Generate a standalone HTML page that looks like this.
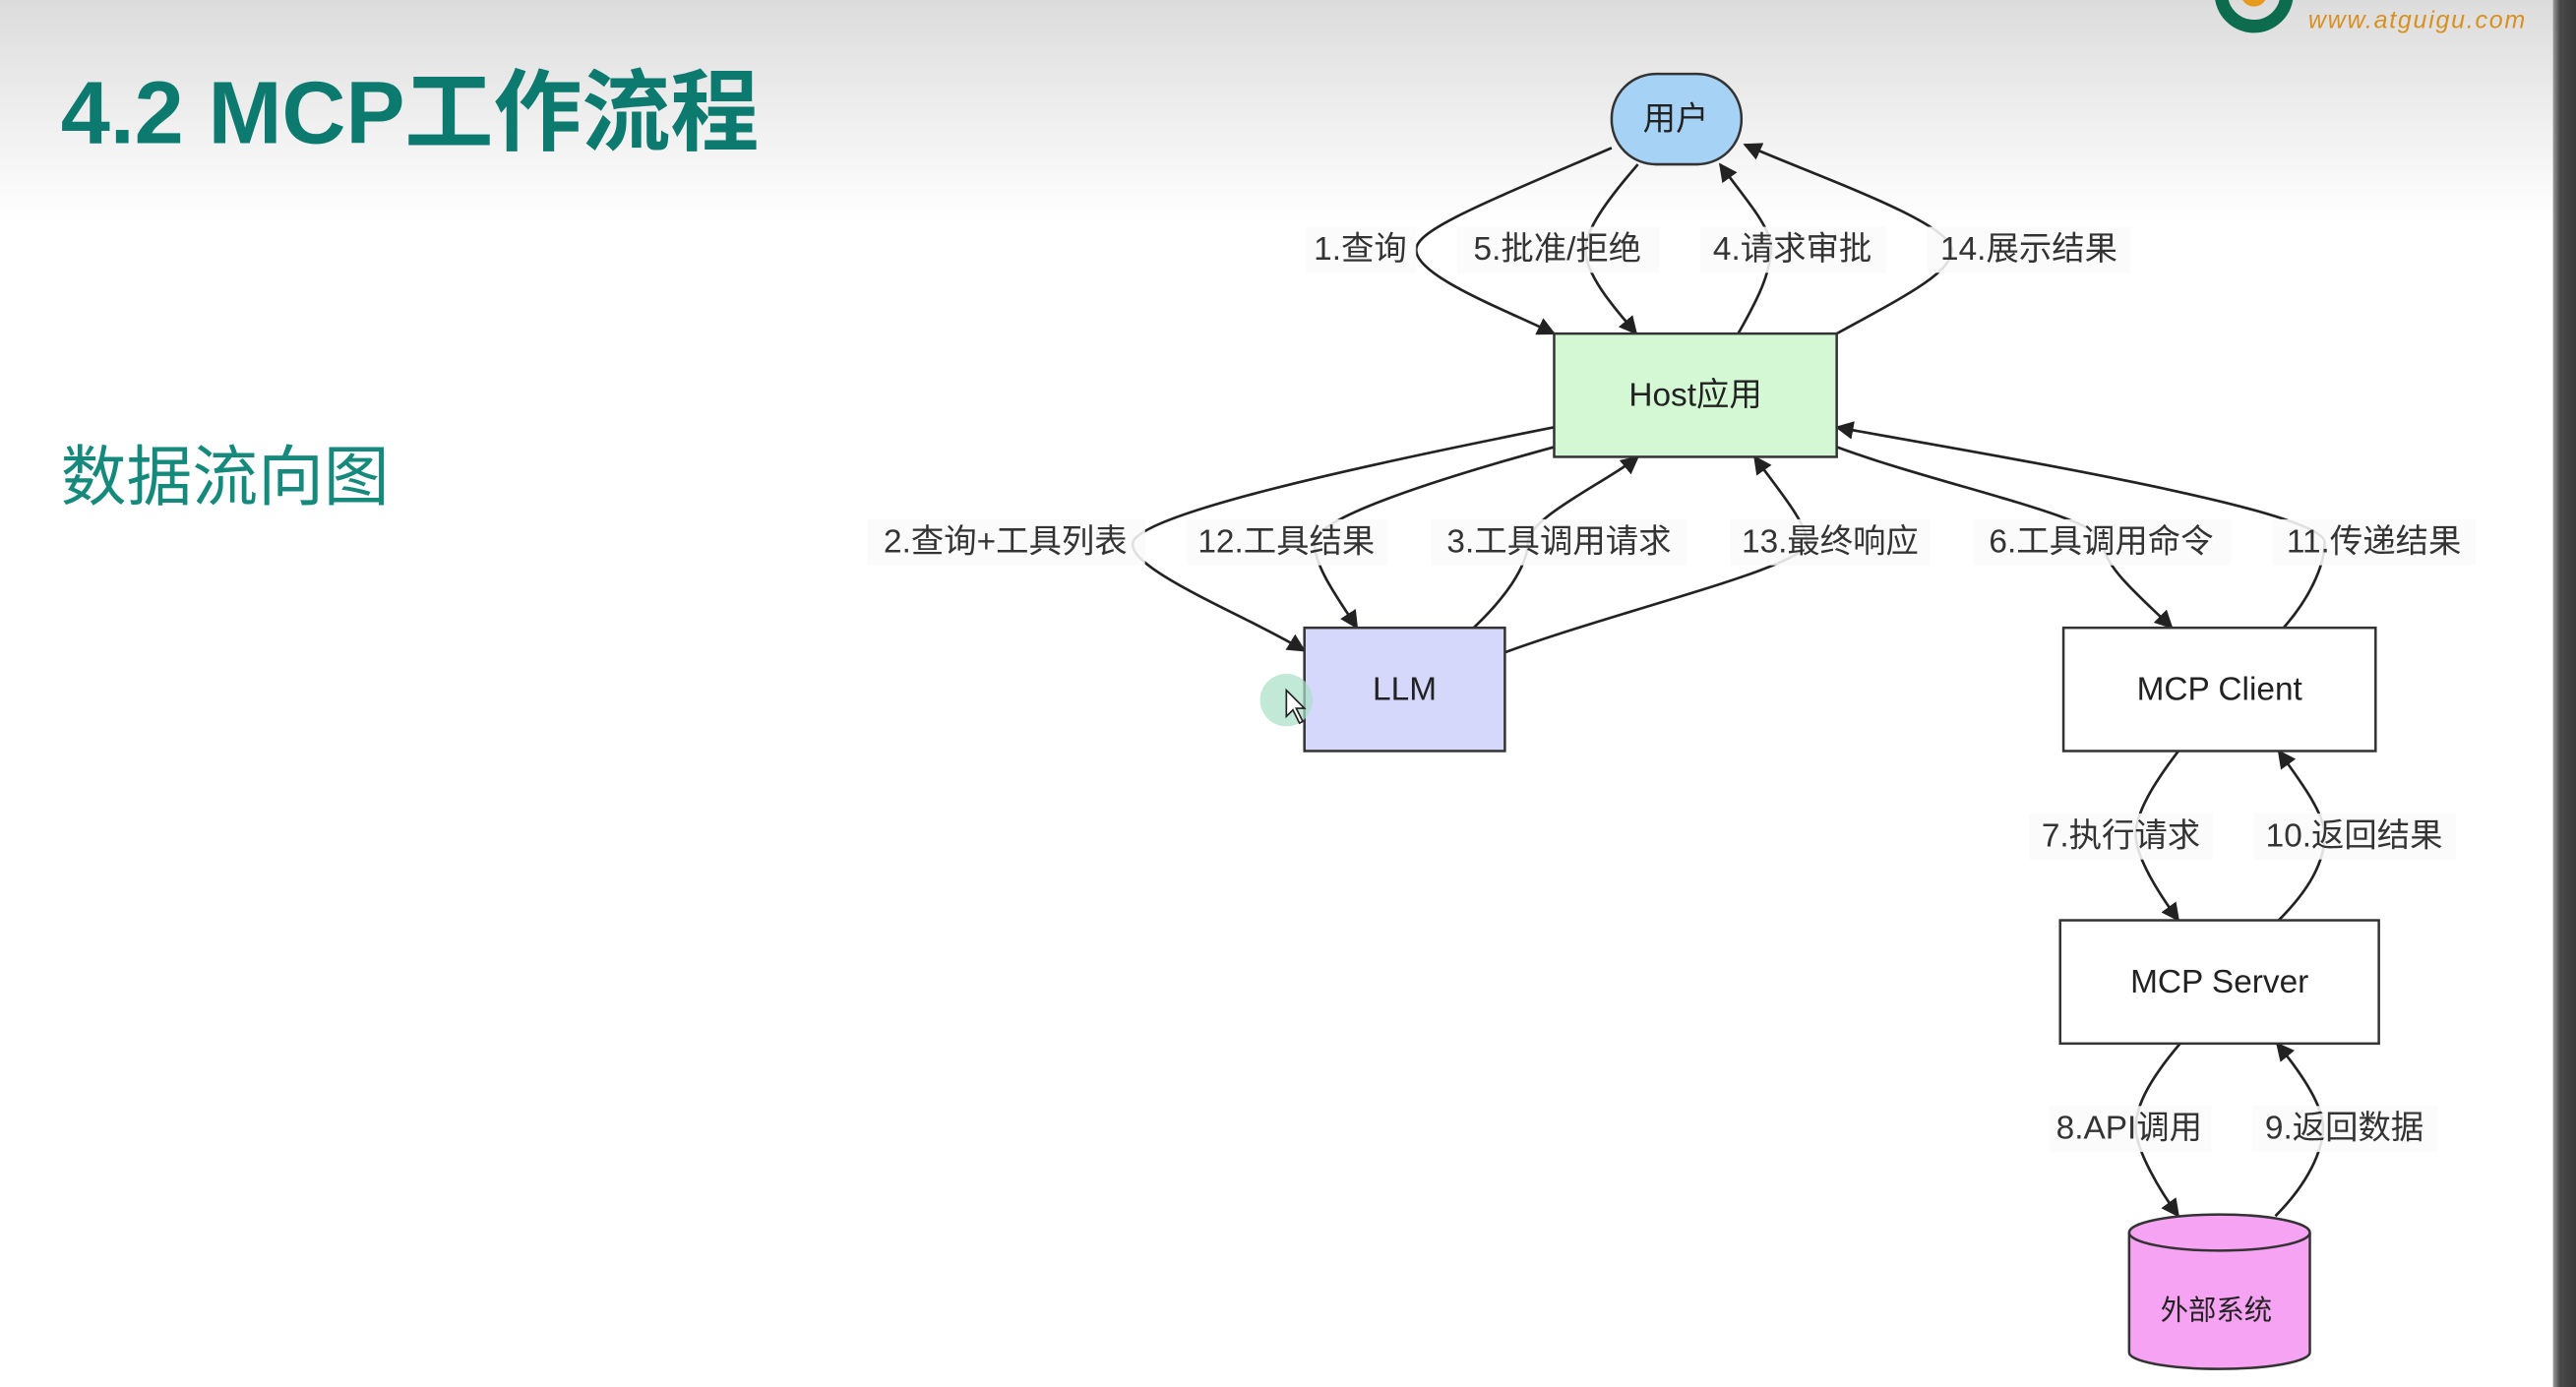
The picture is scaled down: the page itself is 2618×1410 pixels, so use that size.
<!DOCTYPE html>
<html><head><meta charset="utf-8"><style>
html,body{margin:0;padding:0;width:2618px;height:1410px;overflow:hidden;background:#fff}
svg{display:block}
text{font-family:"Liberation Sans","Noto Sans CJK SC",sans-serif}
</style></head><body>
<svg width="2618" height="1410" viewBox="0 0 1568 844" preserveAspectRatio="none" xmlns="http://www.w3.org/2000/svg">
<defs>
<linearGradient id="bg" x1="0" y1="0" x2="0" y2="1">
<stop offset="0" stop-color="#dcdcdc"/><stop offset="1" stop-color="#ffffff"/>
</linearGradient>
<linearGradient id="bar" x1="0" y1="0" x2="1" y2="0">
<stop offset="0" stop-color="#9a9a9a"/><stop offset="0.3" stop-color="#4a4a4a"/><stop offset="1" stop-color="#3a3a3a"/>
</linearGradient>
<marker id="a" viewBox="0 0 10 10" refX="9" refY="5" markerWidth="7" markerHeight="7" orient="auto">
<path d="M0,0 L10,5 L0,10 z" fill="#222"/></marker>
</defs>
<rect x="0" y="0" width="1568" height="844" fill="#fff"/>
<rect x="0" y="0" width="1568" height="135" fill="url(#bg)"/>
<rect x="1554" y="0" width="14" height="844" fill="url(#bar)"/>
<!-- logo -->
<circle cx="1372" cy="-4" r="20" fill="none" stroke="#0d6b4e" stroke-width="8"/>
<circle cx="1372" cy="-4" r="8" fill="#e89a1c"/>
<text x="1405" y="17" font-size="15" fill="#d89020" font-style="italic" textLength="132">www.atguigu.com</text>
<!-- titles -->
<text x="37" y="87" font-size="54" font-weight="bold" fill="#0d7a70" textLength="425">4.2 MCP工作流程</text>
<text x="37" y="304" font-size="40" fill="#14897c">数据流向图</text>
<!-- edges -->
<g fill="none" stroke="#222" stroke-width="1.6">
<path d="M981,90 C900,125 862,140 862,152 C862,168 915,188 946,203" marker-end="url(#a)"/>
<path d="M997,100 C978,122 965,140 965,152 C965,168 985,190 996,203" marker-end="url(#a)"/>
<path d="M1058,203 C1070,182 1078,166 1078,150 C1078,138 1060,118 1047,100" marker-end="url(#a)"/>
<path d="M1118,203 C1160,180 1188,166 1188,152 C1188,135 1100,105 1062,88" marker-end="url(#a)"/>
<path d="M946,260 C820,285 700,312 690,329 C682,345 760,375 794,396" marker-end="url(#a)"/>
<path d="M946,272 C880,290 800,315 800,330 C800,345 815,365 826,382" marker-end="url(#a)"/>
<path d="M897,382 C915,365 930,345 930,330 C930,315 980,292 997,278" marker-end="url(#a)"/>
<path d="M916,397 C990,370 1100,345 1100,330 C1100,318 1080,295 1068,278" marker-end="url(#a)"/>
<path d="M1118,272 C1180,295 1280,315 1280,330 C1280,345 1305,365 1322,382" marker-end="url(#a)"/>
<path d="M1390,382 C1405,365 1415,345 1415,330 C1415,310 1200,275 1118,260" marker-end="url(#a)"/>
<path d="M1326,457 C1310,478 1300,495 1300,508 C1300,522 1315,545 1326,560" marker-end="url(#a)"/>
<path d="M1387,560 C1405,542 1415,525 1415,508 C1415,495 1400,475 1387,457" marker-end="url(#a)"/>
<path d="M1327,635 C1310,655 1300,672 1300,686 C1300,700 1315,725 1326,740" marker-end="url(#a)"/>
<path d="M1385,740 C1405,720 1414,700 1414,686 C1414,672 1400,652 1386,635" marker-end="url(#a)"/>
</g>
<!-- label backgrounds + text -->
<g fill="#fbfbfb" opacity="0.88">
<rect x="795" y="138" width="67" height="28"/><rect x="887" y="138" width="123" height="28"/>
<rect x="1035" y="138" width="113" height="28"/><rect x="1173" y="138" width="124" height="28"/>
<rect x="528" y="316" width="169" height="28"/><rect x="722" y="316" width="123" height="28"/>
<rect x="871" y="316" width="156" height="28"/><rect x="1053" y="316" width="122" height="28"/>
<rect x="1201" y="316" width="157" height="28"/><rect x="1383" y="316" width="124" height="28"/>
<rect x="1235" y="495" width="112" height="28"/><rect x="1372" y="495" width="123" height="28"/>
<rect x="1247" y="673" width="99" height="28"/><rect x="1371" y="673" width="113" height="28"/>
</g>
<g font-size="20" fill="#333" text-anchor="middle">
<text x="828" y="158">1.查询</text><text x="948" y="158">5.批准/拒绝</text>
<text x="1091" y="158">4.请求审批</text><text x="1235" y="158">14.展示结果</text>
<text x="612" y="336">2.查询+工具列表</text><text x="783" y="336">12.工具结果</text>
<text x="949" y="336">3.工具调用请求</text><text x="1114" y="336">13.最终响应</text>
<text x="1279" y="336">6.工具调用命令</text><text x="1445" y="336">11.传递结果</text>
<text x="1291" y="515">7.执行请求</text><text x="1433" y="515">10.返回结果</text>
<text x="1296" y="693">8.API调用</text><text x="1427" y="693">9.返回数据</text>
</g>
<!-- nodes -->
<rect x="981" y="45" width="79" height="55" rx="27" fill="#a6d3f5" stroke="#333" stroke-width="1.5"/>
<text x="1020" y="79" font-size="20" text-anchor="middle" fill="#222">用户</text>
<rect x="946" y="203" width="172" height="75" fill="#d4f7d4" stroke="#333" stroke-width="1.5"/>
<text x="1032" y="247" font-size="20" text-anchor="middle" fill="#222">Host应用</text>
<rect x="794" y="382" width="122" height="75" fill="#d6d8fb" stroke="#333" stroke-width="1.5"/>
<text x="855" y="426" font-size="20" text-anchor="middle" fill="#222">LLM</text>
<rect x="1256" y="382" width="190" height="75" fill="#fff" stroke="#333" stroke-width="1.5"/>
<text x="1351" y="426" font-size="20" text-anchor="middle" fill="#222">MCP Client</text>
<rect x="1254" y="560" width="194" height="75" fill="#fff" stroke="#333" stroke-width="1.5"/>
<text x="1351" y="604" font-size="20" text-anchor="middle" fill="#222">MCP Server</text>
<path d="M1296,750 L1296,823 A55,10 0 0 0 1406,823 L1406,750" fill="#f7a3f4" stroke="#333" stroke-width="1.5"/>
<ellipse cx="1351" cy="750" rx="55" ry="11" fill="#f7a3f4" stroke="#333" stroke-width="1.5"/>
<text x="1349" y="803" font-size="17" text-anchor="middle" fill="#222">外部系统</text>
<!-- cursor -->
<circle cx="783" cy="426" r="16" fill="#a8e0c8" opacity="0.7"/>
<path d="M783,420 L783,436 L787,432 L791,440 L793,439 L789,431 L794,431 z" fill="#fff" stroke="#222" stroke-width="1"/>
</svg>
</body></html>
